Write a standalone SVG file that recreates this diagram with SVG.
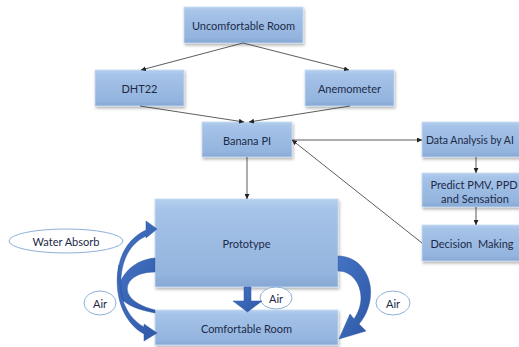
<svg xmlns="http://www.w3.org/2000/svg" width="519" height="347" viewBox="0 0 519 347">
<defs>
<linearGradient id="boxg" x1="0" y1="0" x2="0" y2="1">
<stop offset="0" stop-color="#b6cfee"/>
<stop offset="0.12" stop-color="#a6c3e8"/>
<stop offset="0.85" stop-color="#93b4de"/>
<stop offset="1" stop-color="#86a8d4"/>
</linearGradient>
<linearGradient id="arrg" x1="0" y1="0" x2="1" y2="1">
<stop offset="0" stop-color="#4473c4"/>
<stop offset="1" stop-color="#2f58a6"/>
</linearGradient>
<filter id="sh" x="-10%" y="-10%" width="125%" height="140%">
<feDropShadow dx="1" dy="2" stdDeviation="1.5" flood-color="#000" flood-opacity="0.3"/>
</filter>
<marker id="ah" viewBox="0 0 8 8" refX="8" refY="4" markerWidth="5" markerHeight="5" orient="auto" markerUnits="userSpaceOnUse">
<path d="M0,0 L8,4 L0,8 Z" fill="#222"/>
</marker>
<style>
.box{fill:url(#boxg);stroke:#c9dcf3;stroke-width:0.8;filter:url(#sh)}
.t{font-family:Lato,"Open Sans","Liberation Sans",sans-serif;font-size:11px;fill:#1c2a48;text-anchor:middle;dominant-baseline:central}
.ts{text-anchor:start}
.el{fill:#fff;stroke:#8eb0d8;stroke-width:1}
.ln{stroke:#333;stroke-width:0.8;fill:none;marker-end:url(#ah)}
.ba{fill:url(#arrg);stroke:#2d55a0;stroke-width:0.5}
</style>
</defs>
<rect width="519" height="347" fill="#fff"/>

<g id="uncomfortable-room"><rect class="box" x="184" y="7" width="119" height="36"/><text class="t" x="243.5" y="25">Uncomfortable Room</text></g>
<g id="dht22"><rect class="box" x="95" y="70" width="89" height="36"/><text class="t" x="139.5" y="88">DHT22</text></g>
<g id="anemometer"><rect class="box" x="305" y="70" width="89" height="36"/><text class="t" x="349.5" y="88">Anemometer</text></g>
<g id="banana-pi"><rect class="box" x="202" y="122" width="90" height="35"/><text class="t" x="247" y="140">Banana PI</text></g>
<g id="data-analysis"><rect class="box" x="422" y="122" width="110" height="35"/><text class="t ts" x="426" y="140" style="font-size:10.5px">Data Analysis by AI</text></g>
<g id="predict"><rect class="box" x="422" y="173" width="110" height="34"/><text class="t" x="474" y="184">Predict PMV, PPD</text><text class="t" x="475" y="198">and Sensation</text></g>
<g id="decision-making"><rect class="box" x="422" y="225" width="110" height="36"/><text class="t" x="472" y="243" style="white-space:pre">Decision  Making</text></g>
<g id="prototype"><rect class="box" x="155" y="199" width="183" height="88"/><text class="t" x="246.5" y="243">Prototype</text></g>
<g id="comfortable-room"><rect class="box" x="155" y="310" width="183" height="35"/><text class="t" x="246.5" y="328">Comfortable Room</text></g>
<g id="water-absorb"><ellipse class="el" cx="66" cy="241" rx="57" ry="12"/><text class="t" x="66" y="241">Water Absorb</text></g>
<g id="air-left"><ellipse class="el" cx="100" cy="303" rx="16" ry="12"/><text class="t" x="100" y="303">Air</text></g>
<g id="air-mid"><ellipse class="el" cx="276" cy="298" rx="16" ry="11"/><text class="t" x="276" y="298">Air</text></g>
<g id="air-right"><ellipse class="el" cx="393" cy="303" rx="17" ry="12"/><text class="t" x="393" y="303">Air</text></g>

<g id="connectors">
<path class="ln" d="M243,43 L141,70"/>
<path class="ln" d="M243,43 L349,70"/>
<path class="ln" d="M140,106 L244,122"/>
<path class="ln" d="M350,106 L249,122"/>
<path class="ln" d="M247,157 L247,199"/>
<path class="ln" d="M292,140 L422,140"/>
<path class="ln" d="M422,243 L292,140"/>
<path class="ln" d="M476,157 L476,173"/>
<path class="ln" d="M476,207 L476,225"/>
<path class="ba" d="M244,287 L251,287 L251,301 L262,301 L247.5,312 L233,301 L244,301 Z"/>
<path class="ba" d="M338,256 C359,256 374,276 370,300 C368,311 364,318 359,324 L366,331 L339,339 L350,314 L354,319 C358,313 361,306 361,298 C361,284 352,271 338,271 Z"/>
<path class="ba" d="M155,258 C130,260 114,282 121,297 C126,306 140,310 155,313 L155,310 C143,307 133,302 129,295 C123,284 133,272 155,272 Z"/>
<path class="ba" d="M124,302 C112,282 116,244 146,230 L146,221 L157,229 L146,238 L146,236 C124,246 116,275 124,302 Z"/>
<path class="ba" d="M119,265 C113,292 122,322 144,334 L144,341 L157,333 L144,324 L144,327 C127,318 117,296 119,265 Z"/>
</g>
</svg>
